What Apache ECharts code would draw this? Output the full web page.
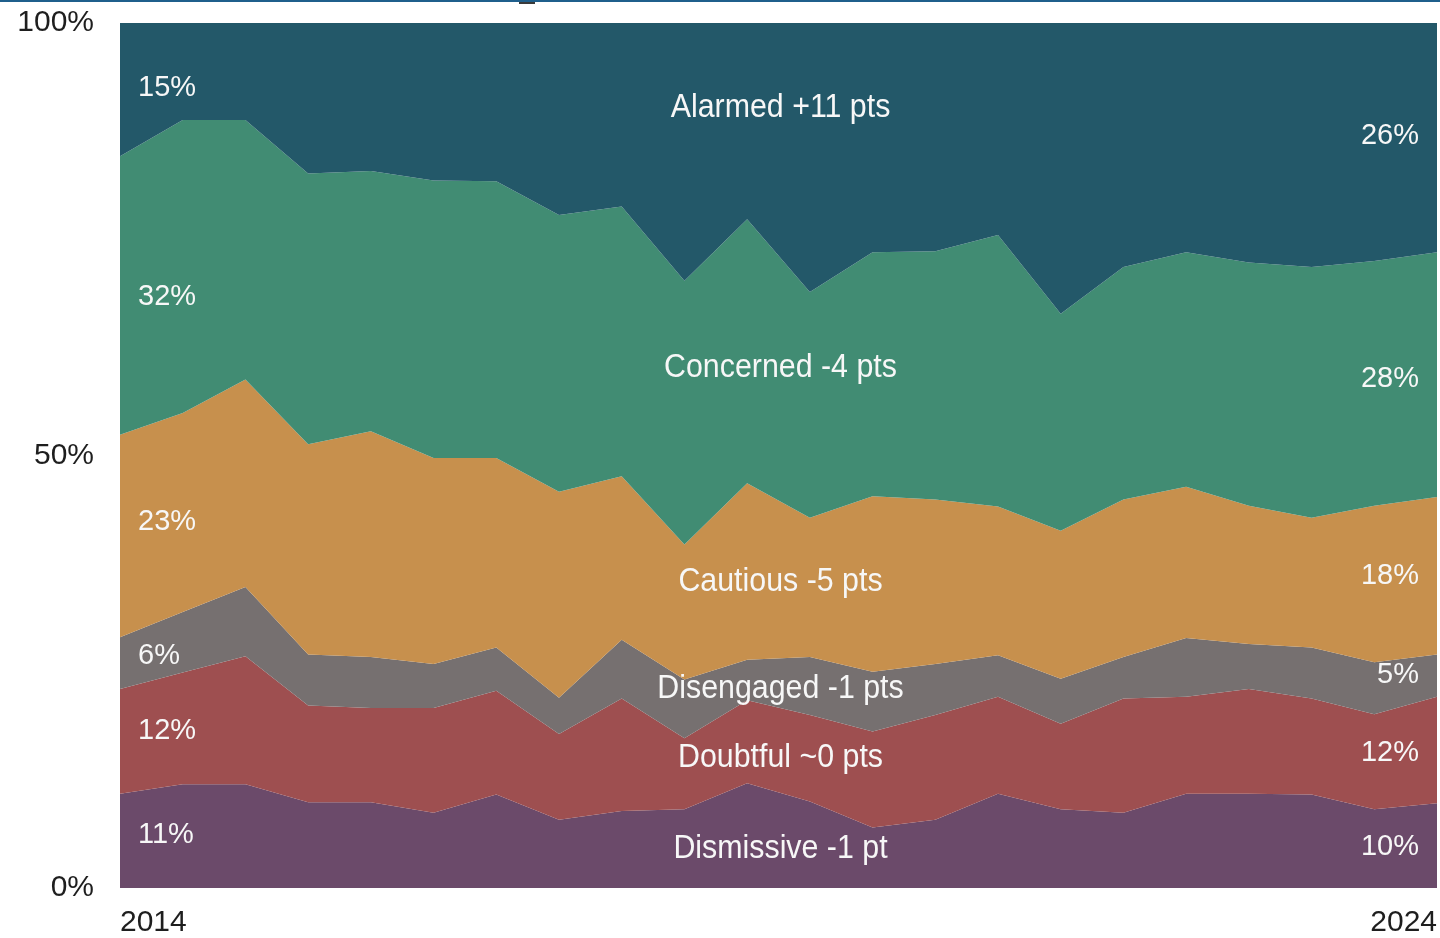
<!DOCTYPE html>
<html>
<head>
<meta charset="utf-8">
<script src="https://cdn.jsdelivr.net/npm/echarts@6/dist/echarts.min.js"></script>
<style>
  html, body { margin: 0; padding: 0; background: #fff; overflow: hidden; }
  #chart { width: 1440px; height: 938px; }
</style>
</head>
<body>
<div id="chart"></div>
<script>
// --- data (share of respondents, %) ---
const waves = ['2014', '', '', '', '', '', '', '', '', '', '', '', '', '', '', '', '', '', '', '', '', '2024'];

const seriesNames = ['Dismissive', 'Doubtful', 'Disengaged', 'Cautious', 'Concerned', 'Alarmed'];

const dismissive = [10.9, 12.0, 12.0, 9.9, 9.9, 8.7, 10.8, 7.9, 8.9, 9.1, 12.1, 10.0, 7.0, 7.9, 10.9, 9.1, 8.7, 10.9, 10.9, 10.8, 9.1, 9.8];
const doubtful = [12.1, 12.9, 14.8, 11.2, 10.9, 12.1, 12.0, 9.9, 13.0, 8.2, 9.6, 10.0, 11.1, 12.1, 11.2, 9.9, 13.2, 11.2, 12.1, 11.1, 11.0, 12.3];
const disengaged = [6.0, 7.0, 8.0, 5.9, 5.9, 5.1, 5.0, 4.2, 6.8, 6.8, 4.7, 6.7, 6.9, 5.9, 4.8, 5.2, 4.8, 6.8, 5.2, 5.9, 6.0, 4.9];
const cautious = [23.4, 23.0, 24.0, 24.3, 26.1, 23.8, 21.9, 23.8, 18.9, 15.6, 20.4, 16.1, 20.3, 19.0, 17.2, 17.1, 18.2, 17.5, 16.0, 15.0, 18.1, 18.2];
const concerned = [32.2, 33.9, 30.0, 31.3, 30.1, 32.1, 32.0, 32.0, 31.2, 30.5, 30.5, 26.1, 28.2, 28.7, 31.4, 25.1, 26.9, 27.1, 28.1, 29.0, 28.3, 28.3];
const alarmed = [15.4, 11.2, 11.2, 17.4, 17.1, 18.2, 18.3, 22.2, 21.2, 29.8, 22.7, 31.1, 26.5, 26.4, 24.5, 33.6, 28.2, 26.5, 27.7, 28.2, 27.5, 26.5];

// labels printed in the bands
const startLabels = ['11%', '12%', '6%', '23%', '32%', '15%'];
const endLabels = ['10%', '12%', '5%', '18%', '28%', '26%'];
const changeLabels = ['Dismissive -1 pt', 'Doubtful ~0 pts', 'Disengaged -1 pts', 'Cautious -5 pts', 'Concerned -4 pts', 'Alarmed +11 pts'];
const yTicks = [0, 50, 100];
// --- end data ---

const colors = ['#6b4a6a', '#9e4f50', '#767070', '#c7904d', '#418c73', '#235869'];
// vertical level (axis %) where each band's text sits
const startLevels = [6.1, 18.1, 26.8, 42.3, 68.3, 92.5];
const endLevels = [4.7, 15.6, 24.6, 36.1, 58.8, 86.9];
const changeLevels = [4.5, 15.0, 23.0, 35.4, 60.1, 90.2];

const values = [dismissive, doubtful, disengaged, cautious, concerned, alarmed];
const FONT = '"Liberation Sans", Arial, sans-serif';

const chart = echarts.init(document.getElementById('chart'));

const option = {
  animation: false,
  backgroundColor: '#fff',
  grid: { left: 120, right: 0, top: 23, bottom: 46, containLabel: false },
  xAxis: {
    type: 'category',
    data: waves,
    boundaryGap: false,
    axisLine: { show: false },
    axisTick: { show: false },
    axisLabel: {
      interval: 0,
      margin: 20,
      color: '#1e1e1e',
      fontSize: 30,
      fontFamily: FONT,
      alignMinLabel: 'left',
      alignMaxLabel: 'right'
    }
  },
  yAxis: {
    type: 'value',
    min: yTicks[0],
    max: yTicks[yTicks.length - 1],
    interval: 50,
    splitLine: { show: false },
    axisLine: { show: false },
    axisTick: { show: false },
    axisLabel: {
      margin: 26,
      color: '#1e1e1e',
      fontSize: 30,
      fontFamily: FONT,
      formatter: '{value}%'
    }
  },
  series: seriesNames.map((name, i) => ({
    name: name,
    type: 'line',
    stack: 'total',
    data: values[i],
    symbol: 'none',
    lineStyle: { width: 0 },
    areaStyle: { color: colors[i], opacity: 1 },
    itemStyle: { color: colors[i] },
    emphasis: { disabled: true },
    silent: true
  }))
};

chart.setOption(option);

// band labels, placed through the axes
const last = waves.length - 1;
const xLeft = chart.convertToPixel({ xAxisIndex: 0 }, 0);
const xRight = chart.convertToPixel({ xAxisIndex: 0 }, last);
const yPix = v => chart.convertToPixel({ yAxisIndex: 0 }, v);

function label(text, x, y, align, size, squeeze) {
  return {
    type: 'text',
    x: x,
    y: y,
    z: 100,
    scaleX: squeeze || 1,
    silent: true,
    style: {
      text: text,
      fill: '#f7f7f7',
      font: size + 'px ' + FONT,
      textAlign: align,
      align: align,
      textVerticalAlign: 'middle',
      verticalAlign: 'middle'
    }
  };
}

const texts = [];
seriesNames.forEach((name, s) => {
  texts.push(label(startLabels[s], xLeft + 18, yPix(startLevels[s]), 'left', 29));
  texts.push(label(endLabels[s], xRight - 18, yPix(endLevels[s]), 'right', 29));
  texts.push(label(changeLabels[s], (xLeft + xRight) / 2 + 2, yPix(changeLevels[s]), 'center', 33, 0.92));
});

// thin rule along the top edge of the page, with the cropped title's tail under it
texts.push({
  type: 'rect',
  z: 90,
  shape: { x: 519, y: 1, width: 16, height: 3 },
  style: { fill: '#3a3a3a' },
  silent: true
});
texts.push({
  type: 'rect',
  z: 100,
  shape: { x: 0, y: 0, width: 1440, height: 2 },
  style: { fill: '#1f5f8c' },
  silent: true
});

chart.setOption({ graphic: texts });
</script>
</body>
</html>
